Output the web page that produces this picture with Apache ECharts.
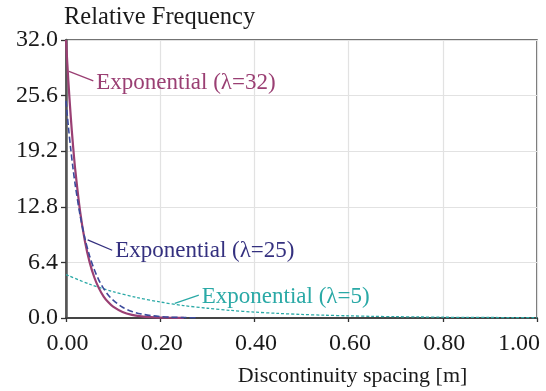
<!DOCTYPE html>
<html>
<head>
<meta charset="utf-8">
<script src="https://cdn.jsdelivr.net/npm/echarts@6/dist/echarts.min.js"></script>
<style>
  html, body { margin: 0; padding: 0; background: #fff; }
  #chart { width: 546px; height: 391px; }
</style>
</head>
<body>
<div id="chart"></div>
<script>
// Spacing samples [m] and relative frequencies for each exponential fit
const x32 = [0, 0.005, 0.01, 0.015, 0.02, 0.03, 0.04, 0.05, 0.06, 0.07, 0.08, 0.09, 0.10, 0.12, 0.14, 0.16, 0.18, 0.20, 0.22, 0.25];
const y32 = [32, 27.27, 23.24, 19.80, 16.87, 12.25, 8.90, 6.46, 4.69, 3.41, 2.47, 1.80, 1.30, 0.69, 0.36, 0.19, 0.10, 0.05, 0.03, 0.01];

const x25 = [0, 0.005, 0.01, 0.015, 0.02, 0.03, 0.04, 0.05, 0.06, 0.07, 0.08, 0.09, 0.10, 0.12, 0.14, 0.16, 0.18, 0.20, 0.22, 0.25, 0.28];
const y25 = [25, 22.06, 19.47, 17.18, 15.16, 11.81, 9.20, 7.16, 5.58, 4.34, 3.38, 2.63, 2.05, 1.24, 0.75, 0.46, 0.28, 0.17, 0.10, 0.05, 0.02];

const x5 = [0, 0.05, 0.10, 0.15, 0.20, 0.25, 0.30, 0.35, 0.40, 0.45, 0.50, 0.55, 0.60, 0.65, 0.70, 0.75, 0.80, 0.85, 0.90, 0.95, 1.00];
const y5 = [5, 3.89, 3.03, 2.36, 1.84, 1.43, 1.12, 0.87, 0.68, 0.53, 0.41, 0.32, 0.25, 0.19, 0.15, 0.12, 0.09, 0.07, 0.06, 0.04, 0.03];

const xTicks = [0, 0.2, 0.4, 0.6, 0.8, 1.0];
const yTicks = [0, 6.4, 12.8, 19.2, 25.6, 32];

const seriesNames = ['Exponential (\u03bb=32)', 'Exponential (\u03bb=25)', 'Exponential (\u03bb=5)'];

// Callout anchors: [from point on curve, to label start] in data units
const callout32 = [[0.0064, 28.4], [0.058, 27.3]];
const callout25 = [[0.046, 9.0], [0.098, 7.8]];
const callout5 = [[0.231, 1.69], [0.282, 2.62]];

const C32 = '#9a3f73';
const C25 = '#34307f';
const C25line = '#3b4a9c';
const C5 = '#2aa9a6';
const FONT = '"Liberation Serif", "DejaVu Serif", serif';

function pairs(xs, ys) { return xs.map((x, i) => [x, ys[i]]); }

function calloutSeries(name, pts, color, dy) {
  return {
    name: name + ' callout',
    type: 'line',
    data: pts,
    symbol: 'none',
    silent: true,
    lineStyle: { color: color, width: 1.3 },
    z: 5,
    endLabel: {
      show: true,
      formatter: name,
      color: color,
      fontFamily: FONT,
      fontSize: 23,
      distance: 3,
      offset: [0, dy]
    }
  };
}

const chart = echarts.init(document.getElementById('chart'), null, { renderer: 'canvas' });

chart.setOption({
  animation: false,
  backgroundColor: '#fff',
  grid: {
    left: 66, right: 9, top: 40, bottom: 73,
    containLabel: false,
    outerBoundsMode: 'none',
    show: true, borderColor: '#454545', borderWidth: 1.5,
    backgroundColor: 'transparent'
  },
  xAxis: {
    type: 'value',
    min: 0, max: 1.0, interval: 0.2,
    name: 'Discontinuity spacing [m]',
    nameLocation: 'middle',
    nameGap: 47,
    nameTextStyle: { color: '#1a1a1a', fontFamily: FONT, fontSize: 22, padding: [0, 0, 0, 102] },
    axisLine: { show: true, onZero: false, lineStyle: { color: '#454545', width: 2 } },
    axisTick: { show: true, length: 4, inside: false, lineStyle: { color: '#333', width: 1.3 } },
    axisLabel: {
      color: '#1a1a1a', fontFamily: FONT, fontSize: 24, margin: 14,
      alignMaxLabel: 'right',
      padding: [0, -3, 0, 0],
      formatter: v => xTicks.some(t => Math.abs(t - v) < 1e-9) ? v.toFixed(2) : ''
    },
    splitLine: { show: true, lineStyle: { color: '#e2e2e2', width: 1.2 } }
  },
  yAxis: {
    type: 'value',
    min: 0, max: 32, interval: 6.4,
    name: 'Relative Frequency',
    nameLocation: 'end',
    nameGap: 10,
    nameTextStyle: { color: '#1a1a1a', fontFamily: FONT, fontSize: 24.5, align: 'left', verticalAlign: 'bottom', padding: [0, 0, 0, -2] },
    axisLine: { show: true, onZero: false, lineStyle: { color: '#555', width: 2.5 } },
    axisTick: { show: true, length: 5, inside: false, lineStyle: { color: '#333', width: 1.3 } },
    axisLabel: {
      color: '#1a1a1a', fontFamily: FONT, fontSize: 24, margin: 8,
      formatter: v => yTicks.some(t => Math.abs(t - v) < 1e-9) ? v.toFixed(1) : ''
    },
    splitLine: { show: true, lineStyle: { color: '#e2e2e2', width: 1.2 } }
  },
  series: [
    {
      name: seriesNames[2], type: 'line', data: pairs(x5, y5), smooth: 0.3,
      symbol: 'none', lineStyle: { color: C5, width: 1.3, type: [3, 2] }, z: 2
    },
    {
      name: seriesNames[0], type: 'line', data: pairs(x32, y32), smooth: 0.3,
      symbol: 'none', lineStyle: { color: C32, width: 2.2 }, z: 3
    },
    {
      name: seriesNames[1], type: 'line', data: pairs(x25, y25), smooth: 0.3,
      symbol: 'none', lineStyle: { color: C25line, width: 1.6, type: [6, 3] }, z: 4
    },
    calloutSeries(seriesNames[0], callout32, C32, 2),
    calloutSeries(seriesNames[1], callout25, C25, 1),
    calloutSeries(seriesNames[2], callout5, C5, 2)
  ]
});
</script>
</body>
</html>
